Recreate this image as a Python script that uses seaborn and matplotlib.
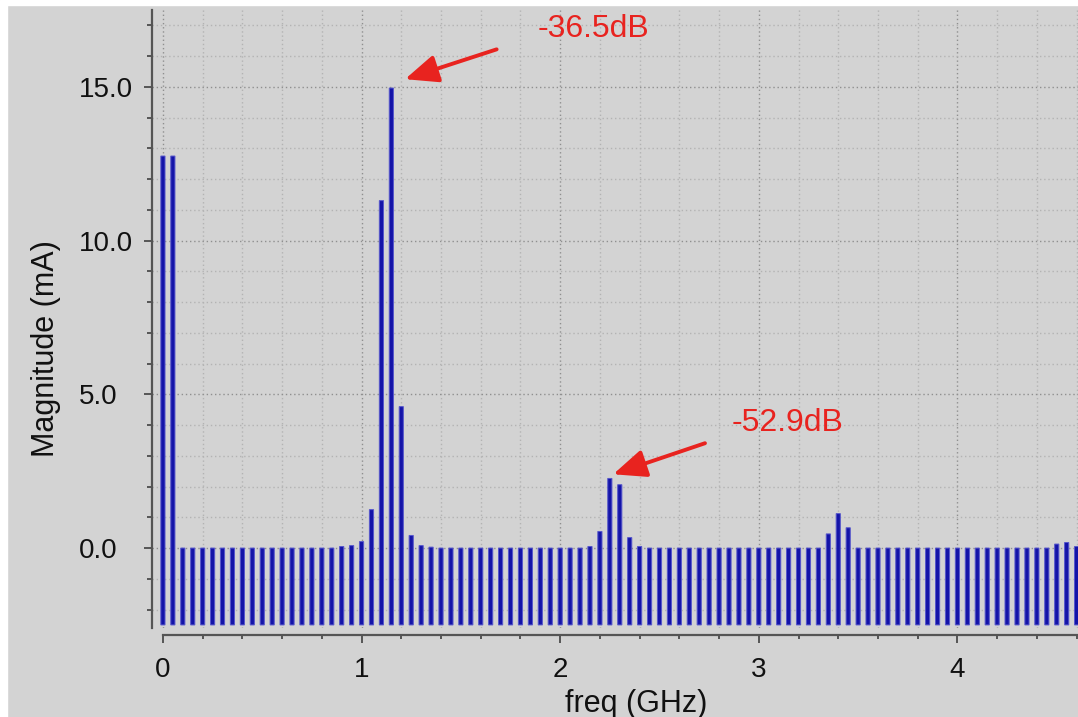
import numpy as np
import pandas as pd
import matplotlib
matplotlib.use("Agg")
import matplotlib.pyplot as plt
import seaborn as sns
from matplotlib.ticker import MultipleLocator, FixedLocator, FixedFormatter
from matplotlib.patches import Rectangle

# ---- data -------------------------------------------------------------
# spectrum bins (GHz), 50 MHz spacing
freq_ghz = [round(i * 0.05, 2) for i in range(93)]

# annotated tone levels (dB re 1 A)
fund_db = -36.5
h2_db = -52.9
fund_ma = 10 ** (fund_db / 20) * 1e3
h2_ma = 10 ** (h2_db / 20) * 1e3

# magnitude per bin (mA)
magnitude_ma = (
    [12.75, 12.75]
    + [0.0] * 16
    + [0.05, 0.08, 0.21, 1.25, 11.3, fund_ma, 4.6, 0.41, 0.08, 0.03]
    + [0.0] * 15
    + [0.05, 0.54, h2_ma, 2.06, 0.34, 0.05]
    + [0.0] * 18
    + [0.46, 1.12, 0.66]
    + [0.0] * 20
    + [0.13, 0.18, 0.05]
)

x_ticks = [0, 1, 2, 3, 4]
x_tick_labels = ["0", "1", "2", "3", "4"]
y_ticks = [0, 5, 10, 15]
y_tick_labels = ["0.0", "5.0", "10.0", "15.0"]

annotations = [
    # label, tip (x, y), tail (x, y), text centre (x, y)
    (f"{fund_db}dB", (1.219, 15.25), (1.680, 16.22), (2.170, 16.88)),
    (f"{h2_db}dB", (2.267, 2.40), (2.729, 3.41), (3.147, 4.07)),
]

FLOOR = -2.5  # bars rise from the bottom of the plot

df = pd.DataFrame({"freq": freq_ghz, "mag": magnitude_ma})

# ---- style ------------------------------------------------------------
sns.set_theme(style="ticks")
plt.rcParams["font.family"] = ["Liberation Sans", "DejaVu Sans"]

BG = "#d3d3d3"
BAR = "#1414a8"
RED = "#e8231f"
AXC = "#555555"

W, H = 1078, 717
fig = plt.figure(figsize=(W / 100, H / 100), dpi=100, facecolor=BG)
ax = fig.add_axes([152 / W, (H - 628) / H, (W - 152) / W, (628 - 10) / H])
ax.set_facecolor(BG)

sns.barplot(
    data=df, x="freq", y="mag", native_scale=True, width=0.42,
    color=BAR, saturation=1, edgecolor="#5656cc", linewidth=0.7,
    errorbar=None, ax=ax,
)
for p in ax.patches:
    h = p.get_height()
    p.set_y(FLOOR)
    p.set_height(h - FLOOR)
    p.set_snap(False)

ax.set_xlim(-0.055, 4.607)
ax.set_ylim(-2.6, 17.5)

# ---- axes, ticks, grid -------------------------------------------------
ax.xaxis.set_major_locator(FixedLocator(x_ticks))
ax.xaxis.set_major_formatter(FixedFormatter(x_tick_labels))
ax.xaxis.set_minor_locator(MultipleLocator(0.2))
ax.yaxis.set_major_locator(FixedLocator(y_ticks))
ax.yaxis.set_major_formatter(FixedFormatter(y_tick_labels))
ax.yaxis.set_minor_locator(MultipleLocator(1.0))

ax.grid(which="major", color="#8f8f8f", linestyle=(0, (1, 2)), linewidth=1.0)
ax.grid(which="minor", color="#b3b3b3", linestyle=(0, (1, 2)), linewidth=1.0)
ax.set_axisbelow(True)

for s in ("top", "right"):
    ax.spines[s].set_visible(False)
ax.spines["left"].set_color(AXC)
ax.spines["left"].set_linewidth(1.6)
ax.spines["bottom"].set_color(AXC)
ax.spines["bottom"].set_linewidth(1.6)
ax.spines["bottom"].set_position(("outward", 5))
ax.spines["bottom"].set_bounds(0, 4.607)

ax.tick_params(axis="both", which="both", colors=AXC, direction="out", width=1.4)
ax.tick_params(axis="y", which="major", length=5.8, pad=46.8, labelsize=20,
               labelcolor="#111111")
ax.tick_params(axis="y", which="minor", length=3.6)
ax.tick_params(axis="x", which="major", length=5.8, pad=10, labelsize=20,
               labelcolor="#111111")
ax.tick_params(axis="x", which="minor", length=3.2)
for lab in ax.get_yticklabels():
    lab.set_horizontalalignment("left")

ax.set_xlabel("freq (GHz)", fontsize=22, color="#111111")
ax.xaxis.set_label_coords((636 - 152) / (W - 152), (628 - 689) / 618)
ax.set_ylabel("Magnitude (mA)", fontsize=22, color="#111111")
ax.yaxis.set_label_coords((46 - 152) / (W - 152), (628 - 349) / 618)
ax.yaxis.label.set(va="center", ha="center")

# ---- annotations ---------------------------------------------------------
for text, tip, tail, pos in annotations:
    ax.annotate("", xy=tip, xytext=tail,
                arrowprops=dict(arrowstyle="-|>,head_length=0.8,head_width=0.34",
                                mutation_scale=25, lw=2.8, color=RED,
                                shrinkA=0, shrinkB=0))
    ax.text(pos[0], pos[1], text, color=RED, fontsize=23,
            ha="center", va="center")

# thin white border along the top and left edges
fig.add_artist(Rectangle((0, 1 - 5 / H), 1, 5 / H, transform=fig.transFigure,
                         color="white", zorder=10))
fig.add_artist(Rectangle((0, 0), 7 / W, 1, transform=fig.transFigure,
                         color="white", zorder=10))

fig.savefig("out.png", dpi=100, facecolor=BG)
